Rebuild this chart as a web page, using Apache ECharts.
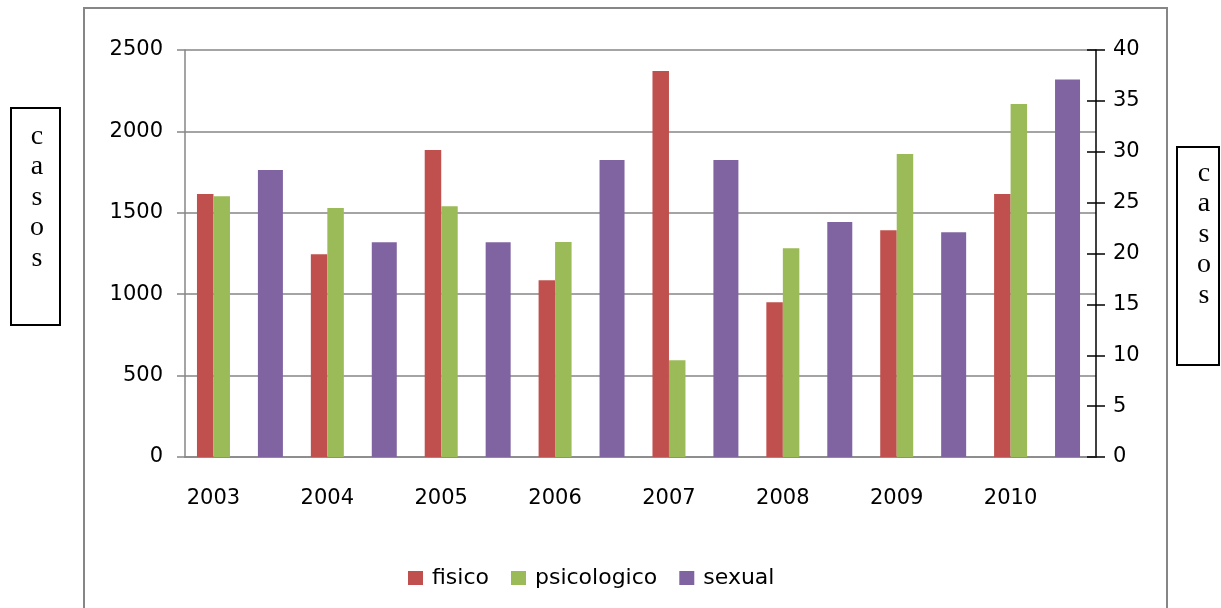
<!DOCTYPE html>
<html>
<head>
<meta charset="utf-8">
<title>casos 2003-2010</title>
<script src="https://cdn.jsdelivr.net/npm/echarts@6/dist/echarts.min.js"></script>
<style>
  html, body { margin: 0; padding: 0; background: #fff; }
  #chart { width: 1221px; height: 608px; }
</style>
</head>
<body>
<div id="chart"></div>
<script>
// datos
const years = ['2003', '2004', '2005', '2006', '2007', '2008', '2009', '2010']
const fisico = [1615, 1246, 1885, 1086, 2371, 951, 1393, 1615]
const psicologico = [1602, 1529, 1541, 1320, 594, 1283, 1861, 2168]
const sexual = [28.2, 21.1, 21.1, 29.2, 29.2, 23.1, 22.1, 37.1]
const seriesNames = ['fisico', 'psicologico', 'sexual']

// eje izquierdo 0-2500, eje derecho 0-40
const leftMax = 2500
const leftStep = 500
const rightMax = 40
const rightStep = 5

const font = 'DejaVu Sans'
const gray = '#868686'

// cada anio ocupa dos huecos: fisico/psicologico en el primero, sexual en el segundo
const categories = []
years.forEach(y => { categories.push(y, '') })
const fisicoData = fisico.flatMap(v => [v, '-'])
const psicoData = psicologico.flatMap(v => [v, '-'])
const sexualData = sexual.flatMap(v => ['-', v])

const option = {
  animation: false,
  grid: { left: 185, right: 125, top: 50, bottom: 151 },
  legend: {
    left: 408,
    top: 567,
    padding: 0,
    icon: 'rect',
    itemWidth: 15,
    itemHeight: 14,
    itemGap: 22,
    textStyle: { fontFamily: font, fontSize: 22, color: '#000', padding: [0, 0, 0, 4] },
    data: seriesNames
  },
  xAxis: [
    {
      type: 'category',
      data: categories,
      axisLine: { lineStyle: { color: gray, width: 1.5 } },
      axisTick: { interval: 0, length: 8, lineStyle: { color: gray, width: 1.5 } },
      axisLabel: { interval: 0, margin: 31, color: '#000', fontFamily: font, fontSize: 21 }
    },
    // eje secundario (oculto) para la serie sexual
    { type: 'category', data: categories, show: false }
  ],
  yAxis: [
    {
      type: 'value',
      position: 'left',
      min: 0,
      max: leftMax,
      interval: leftStep,
      axisLine: { show: true, lineStyle: { color: gray, width: 1.5 } },
      axisTick: { show: true, length: 8, lineStyle: { color: gray, width: 1.5 } },
      axisLabel: { margin: 22, color: '#000', fontFamily: font, fontSize: 21, formatter: v => String(v) },
      splitLine: { lineStyle: { color: gray, width: 1.5 } }
    },
    {
      type: 'value',
      position: 'right',
      min: 0,
      max: rightMax,
      interval: rightStep,
      axisLine: { show: true, lineStyle: { color: '#000', width: 1.5 } },
      axisTick: { show: true, length: 9, lineStyle: { color: '#000', width: 1.5 } },
      axisLabel: { margin: 17, color: '#000', fontFamily: font, fontSize: 21 },
      splitLine: { show: false }
    },
    // marcas hacia dentro del eje derecho (cruzadas)
    {
      type: 'value',
      position: 'right',
      min: 0,
      max: rightMax,
      interval: rightStep,
      axisLine: { show: false },
      axisTick: { show: true, inside: true, length: 9, lineStyle: { color: '#000', width: 1.5 } },
      axisLabel: { show: false },
      splitLine: { show: false }
    }
  ],
  series: [
    {
      name: 'fisico',
      type: 'bar',
      xAxisIndex: 0,
      yAxisIndex: 0,
      barWidth: 16.5,
      barGap: '0%',
      itemStyle: { color: '#C0504D' },
      data: fisicoData
    },
    {
      name: 'psicologico',
      type: 'bar',
      xAxisIndex: 0,
      yAxisIndex: 0,
      barWidth: 16.5,
      barGap: '0%',
      itemStyle: { color: '#9BBB59' },
      data: psicoData
    },
    {
      name: 'sexual',
      type: 'bar',
      xAxisIndex: 1,
      yAxisIndex: 1,
      barWidth: 25,
      itemStyle: { color: '#8064A2' },
      data: sexualData
    }
  ],
  graphic: [
    // marco exterior
    {
      type: 'rect',
      silent: true,
      shape: { x: 84, y: 8, width: 1083, height: 640 },
      style: { fill: 'none', stroke: gray, lineWidth: 2 }
    },
    // titulos de eje "casos"
    {
      type: 'rect',
      silent: true,
      shape: { x: 11, y: 108, width: 49, height: 217 },
      style: { fill: 'none', stroke: '#000', lineWidth: 2 }
    },
    {
      type: 'text',
      silent: true,
      x: 37,
      y: 121,
      style: {
        text: 'c\na\ns\no\ns',
        fontFamily: 'Liberation Serif',
        fontSize: 28,
        lineHeight: 30.5,
        align: 'center',
        verticalAlign: 'top',
        fill: '#000'
      }
    },
    {
      type: 'rect',
      silent: true,
      shape: { x: 1177, y: 147, width: 42, height: 218 },
      style: { fill: 'none', stroke: '#000', lineWidth: 2 }
    },
    {
      type: 'text',
      silent: true,
      x: 1204,
      y: 158,
      style: {
        text: 'c\na\ns\no\ns',
        fontFamily: 'Liberation Serif',
        fontSize: 28,
        lineHeight: 30.5,
        align: 'center',
        verticalAlign: 'top',
        fill: '#000'
      }
    }
  ]
}

const chart = echarts.init(document.getElementById('chart'))
chart.setOption(option)
</script>
</body>
</html>
